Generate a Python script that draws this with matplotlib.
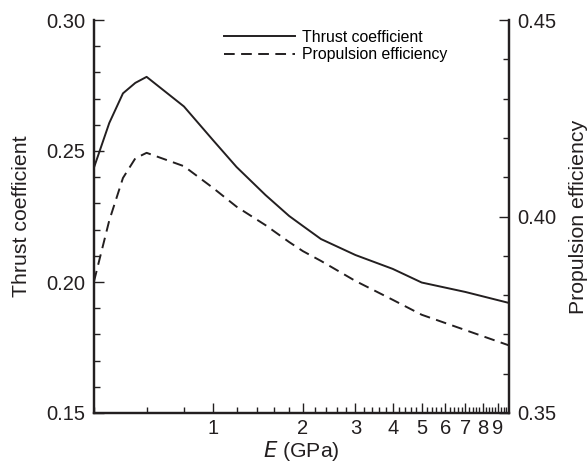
import numpy as np
import matplotlib
matplotlib.use("Agg")
from matplotlib import pyplot as plt
from matplotlib.ticker import FixedLocator, MultipleLocator, NullFormatter

plt.rcParams['font.family'] = ['Liberation Sans', 'DejaVu Sans']

# values
E = [0.4, 0.45, 0.5, 0.55, 0.6, 0.8, 1.0, 1.2, 1.5, 1.8, 2.0, 2.3, 3, 4, 5, 7, 9.8]
thrust = [0.2437, 0.2607, 0.2720, 0.2760, 0.2783, 0.2670, 0.2542, 0.2439, 0.2332,
          0.2252, 0.2214, 0.2164, 0.2103, 0.2050, 0.1998, 0.1962, 0.1920]
efficiency = [0.3835, 0.3990, 0.4098, 0.4148, 0.4162, 0.4128, 0.4073, 0.4025, 0.3978,
              0.3935, 0.3912, 0.3887, 0.3836, 0.3788, 0.3750, 0.3711, 0.3672]
x_ticks = [1, 2, 3, 4, 5, 6, 7, 8, 9]
x_minor = [0.4, 0.6, 0.8, 1.2, 1.4, 1.6, 1.8, 2.2, 2.4, 2.6, 2.8, 3.2, 3.4, 3.6, 3.8,
           4.2, 4.4, 4.6, 4.8, 5.2, 5.4, 5.6, 5.8, 6.2, 6.4, 6.6, 6.8, 7.2, 7.4, 7.6,
           7.8, 8.2, 8.4, 8.6, 8.8, 9.2, 9.4, 9.6]

ink = '#231f20'
fs_tick = 14.5
fs_lab = 15.3

fig = plt.figure(figsize=(5.87, 4.63), dpi=100)
ax = fig.add_axes([94/587, 50/463, 415/587, 393/463])
ax2 = ax.twinx()

l1, = ax.plot(E, thrust, color=ink, lw=1.4, label='Thrust coefficient')
l2, = ax2.plot(E, efficiency, color=ink, lw=1.4, linestyle=(0, (5.5, 3.3)),
               label='Propulsion efficiency')

ax.set_xscale('log')
ax.set_xlim(0.4, 9.8)
ax.xaxis.set_major_locator(FixedLocator(x_ticks))
ax.set_xticklabels([str(t) for t in x_ticks])
ax.xaxis.set_minor_locator(FixedLocator(x_minor))
ax.xaxis.set_minor_formatter(NullFormatter())

ax.set_ylim(0.15, 0.30)
ax.set_yticks([0.15, 0.20, 0.25, 0.30])
ax.set_yticklabels(['0.15', '0.20', '0.25', '0.30'])
ax.yaxis.set_minor_locator(MultipleLocator(0.01))
ax2.set_ylim(0.35, 0.45)
ax2.set_yticks([0.35, 0.40, 0.45])
ax2.set_yticklabels(['0.35', '0.40', '0.45'])
ax2.yaxis.set_minor_locator(MultipleLocator(0.01))

for a in (ax, ax2):
    a.spines['top'].set_visible(False)
    for s in a.spines.values():
        s.set_linewidth(1.6)
        s.set_color(ink)
    a.tick_params(which='both', direction='in', color=ink, width=1.0,
                  labelsize=fs_tick, labelcolor=ink, top=False)
    a.tick_params(which='major', length=7, pad=6)
    a.tick_params(which='minor', length=4)
ax.tick_params(axis='x', pad=4)
ax.tick_params(axis='y', right=False)
ax2.tick_params(axis='y', left=False)

ax.set_ylabel('Thrust coefficient', fontsize=fs_lab, color=ink, labelpad=11)
ax2.set_ylabel('Propulsion efficiency', fontsize=fs_lab, color=ink, labelpad=9)
ax.set_xlabel('$\\it{E}$ (GPa)', fontsize=fs_lab, color=ink, labelpad=1)

ax2.legend(handles=[l1, l2], loc='upper left', bbox_to_anchor=(0.313, 0.975),
           frameon=False, fontsize=11.4, borderpad=0, borderaxespad=0,
           handlelength=4.5, handletextpad=0.45, labelspacing=0.15)

fig.savefig('out.png', dpi=100)
